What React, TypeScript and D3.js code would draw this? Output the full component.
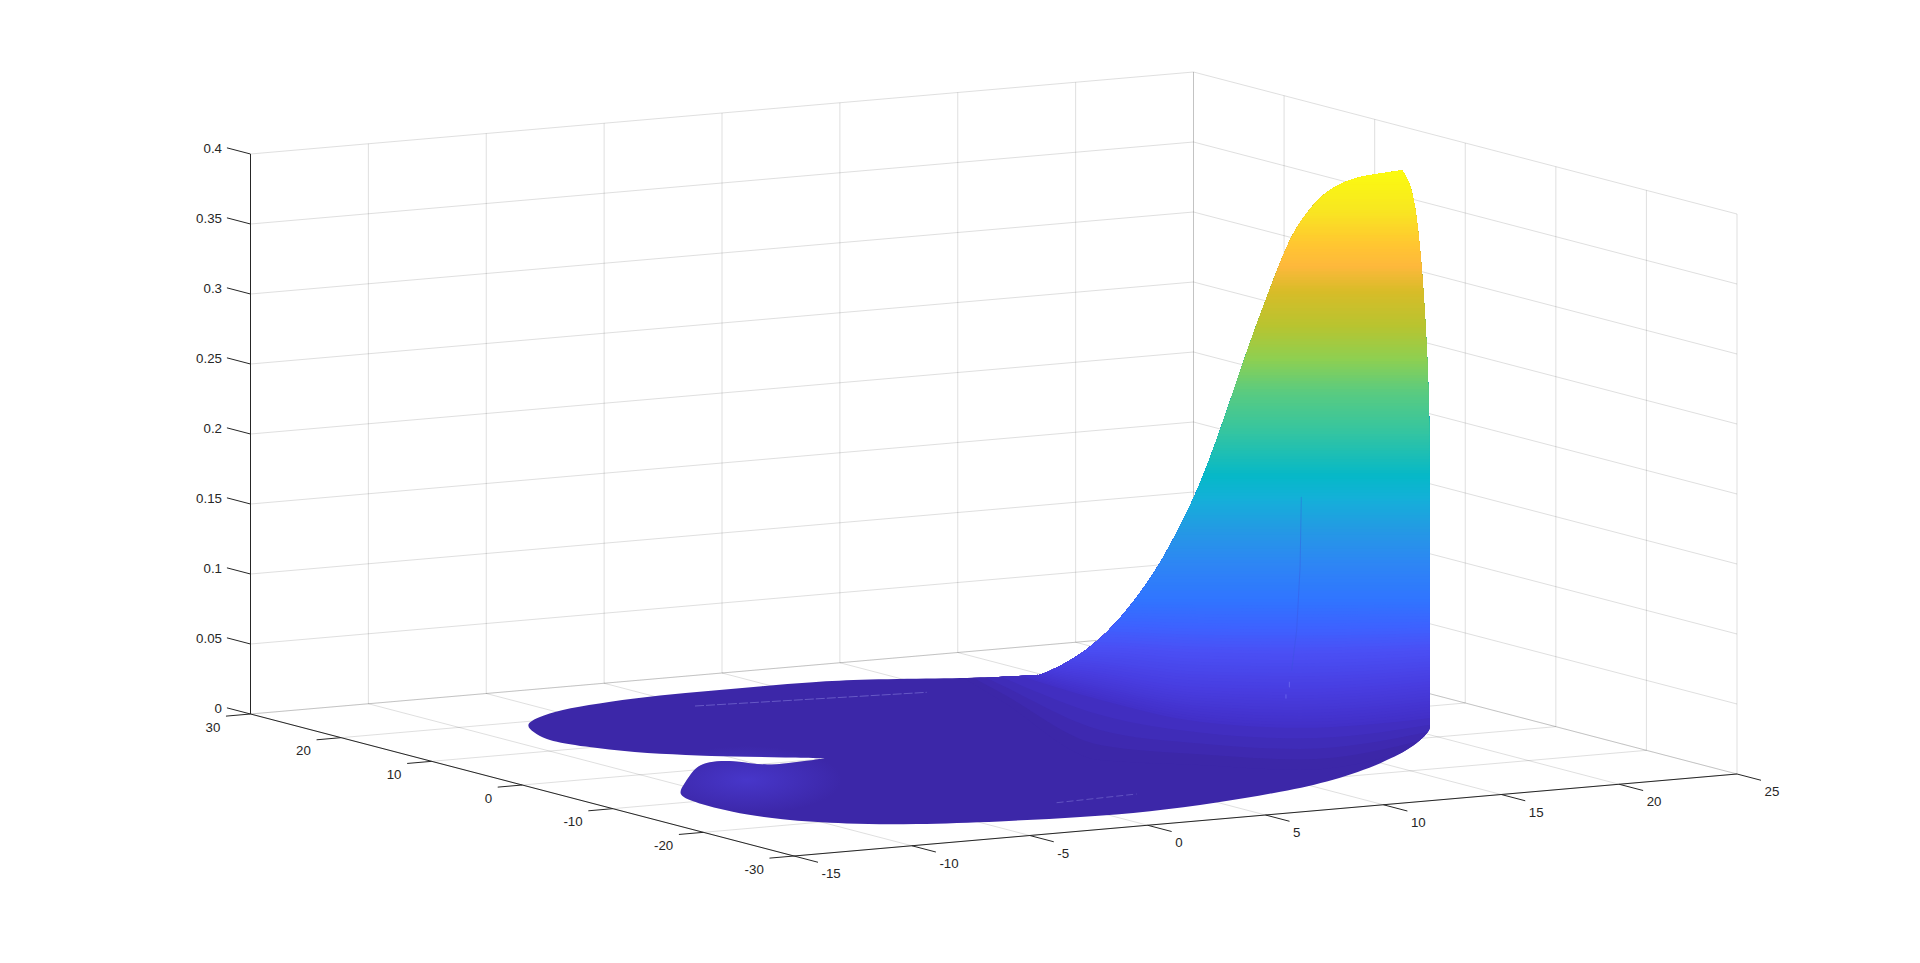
import React from "react";
import * as d3 from "d3";

const xTicks = [-15, -10, -5, 0, 5, 10, 15, 20, 25];
const yTicks = [-30, -20, -10, 0, 10, 20, 30];
const zTicks = [0, 0.05, 0.1, 0.15, 0.2, 0.25, 0.3, 0.35, 0.4];
const zTickLabels = ["0", "0.05", "0.1", "0.15", "0.2", "0.25", "0.3", "0.35", "0.4"];

// outline of the surface: front rim, slit, back rim, then over the peak
// a repeated entry keeps a sharp corner (slit tip, peak, where the back rim lifts)
const rimX = [20.95, 20.59, 18.34, 15.04, 11.33, 8.4, 4.91, 1.73, -1.05, -4.26, -7.37, -9.42, -11.07, -11.64, -11.64, -11.35,
  -9.62, -7.74, -6.61, -5.89, -5.33, -5.11, -4.79, -3.94, -2.99, -2.11, -2.11, -2.11,
  -3.18, -4.73, -6.15, -7.49, -8.38, -8.8, -8.2, -7.5, -5.82, -4.2, -2.1, 0.34, 2.46, 4.69, 6.79, 8.75, 11.61, 13.36,
  14.75, 14.75, 15.07, 15.42, 15.74, 16.06, 16.38, 16.67, 16.9, 17.13, 17.45, 17.68, 17.91, 18.09, 18.27, 18.44, 18.67, 18.91, 19.2, 19.46, 19.82, 19.82,
  20.06, 20.34, 20.6, 20.78, 20.9, 20.95, 20.95, 20.95];
const rimY = [-6.64, -7.59, -11.97, -16.84, -21, -23.1, -24.85, -25.77, -25.6, -24.81, -23.29, -21.31, -18.2, -14.2, -10.52, -7.52,
  -3.95, 0.04, 1.9, 2.25, 1.89, 0.6, -0.4, -0.41, -0.14, 0.12, 0.12, 0.12,
  1.46, 3.06, 5, 7.14, 10.45, 13.55, 16.5, 19.3, 21.62, 23.05, 24.01, 24.73, 24.6, 24.77, 24.64, 24.08, 22.03, 21.06,
  20.28, 20.28, 18.57, 16.83, 15.12, 13.41, 11.64, 10.17, 8.96, 7.71, 5.99, 4.77, 3.56, 2.64, 1.73, 0.78, -0.44, -1.66, -3.21, -4.58, -6.5, -6.5,
  -6.6, -6.6, -6.6, -6.62, -6.64, -6.64, -6.64, -6.64];
const rimZ = [0, 0, 0, 0, 0, 0, 0, 0, 0, 0, 0, 0, 0, 0, 0, 0,
  0, 0, 0, 0, 0, 0, 0, 0, 0, 0, 0, 0,
  0, 0, 0, 0, 0, 0, 0, 0, 0, 0, 0, 0, 0, 0, 0, 0, 0, 0,
  0.0007, 0.0007, 0.0103, 0.0234, 0.0401, 0.0619, 0.0879, 0.1164, 0.1417, 0.1721, 0.2224, 0.2591, 0.2922, 0.3173, 0.34, 0.3556, 0.3716, 0.3817, 0.3894, 0.3937, 0.3991, 0.3991,
  0.392, 0.375, 0.334, 0.286, 0.239, 0.191, 0.1, 0.035];

// where each height starts on the floor, one row per height, one column per slice
const isoLevels = [0, 0.008, 0.032, 0.056, 0.091];
const isoFloorX = [
  [14.68, 10.56, 6.43, 9.0, 11.58, 19.45],
  [14.68, 13.0, 12.4, 12.9, 15.36, 21.15],
  [14.68, 10.56, 11.3, 12.66, 15.6, 21.15],
  [7.37, 6.91, 10.57, 13.15, 16.21, 21.15],
  [3.96, 7.15, 10.33, 13.51, 16.7, 21.15],
];
const isoFloorY = [
  [35.55, 13.77, -8, -12.34, -16.69, -11.66],
  [35.55, 20.11, 7.54, -2.2, -6.86, -7.22],
  [35.55, 13.77, 4.68, -2.83, -6.23, -7.22],
  [16.53, 4.26, 2.78, -1.56, -4.64, -7.22],
  [7.66, 4.9, 2.15, -0.61, -3.37, -7.22],
];

// colormap as it looks in the picture
const colorZ = [0, 0.008, 0.032, 0.056, 0.072, 0.091, 0.115, 0.139, 0.163, 0.179, 0.211, 0.239, 0.263, 0.286, 0.311, 0.329, 0.346, 0.37, 0.396];
const colorHex = ["#3c27a8", "#4230c8", "#483de0", "#4a50f5", "#3d62ff", "#3075ff", "#2e85f5", "#2598e5", "#14b0d8", "#05b8c8", "#35c5a0", "#5acb80", "#8fd050", "#b8c430", "#d8bc28", "#feb83c", "#ffc830", "#f8e820", "#fbfa10"];

// thin mesh seams that show on the surface
const seamA = { x: [0.12, 9.16], y: [20.28, 18.23], z: [0, 0] };
const seamB = { x: [-0.15, 3.46], y: [-20.34, -19.79], z: [0, 0] };
const seamC = { x: [16.74, 16.7, 16.59, 16.43], y: [-3.4, -3.37, -3.28, -3.14], z: [0.165, 0.115, 0.07, 0.041] };
const seamD = { x: [16.36, 16.36], y: [-3.07, -3.07], z: [0.033, 0.029] };
const seamE = { x: [16.25, 16.25], y: [-2.98, -2.98], z: [0.024, 0.021] };

const flapGlow = { x: -7.24, y: -4.61 };

const xToPx = d3.scaleLinear().domain([-15, 25]).range([794, 1737]);
const xToPy = d3.scaleLinear().domain([-15, 25]).range([856, 774]);
const yToPx = d3.scaleLinear().domain([-30, 30]).range([0, -543.5]);
const yToPy = d3.scaleLinear().domain([-30, 30]).range([0, -142]);
const zToPy = d3.scaleLinear().domain([0, 0.4]).range([0, -560]);
const colorScale = d3.scaleLinear<string>().domain(colorZ).range(colorHex).interpolate(d3.interpolateRgb).clamp(true);

const project = (x: number, y: number, z: number): [number, number] => [xToPx(x) + yToPx(y), xToPy(x) + yToPy(y) + zToPy(z)];

const AXIS = "#262626";
const GRID = "rgba(38,38,38,0.15)";
const FONT = "'Liberation Sans', Arial, sans-serif";

function seg(a: [number, number], b: [number, number]) {
  return `M${a[0]},${a[1]}L${b[0]},${b[1]}`;
}

// every column of the iso table gets a scale from height to floor position
const colScalesX = isoFloorX[0].map((_, c) => d3.scaleLinear().domain(isoLevels).range(isoFloorX.map(r => r[c])).clamp(true));
const colScalesY = isoFloorY[0].map((_, c) => d3.scaleLinear().domain(isoLevels).range(isoFloorY.map(r => r[c])).clamp(true));

const bandLevels = d3.range(0, 0.402, 0.002);

function seamPath(s: { x: number[]; y: number[]; z: number[] }) {
  return d3.line()(s.x.map((x, i) => project(x, s.y[i], s.z[i]))) as string;
}

export default function App() {
  const rimPoints = rimX.map((x, i) => project(x, rimY[i], rimZ[i]));
  const rimPath = d3.line().curve(d3.curveBasisClosed)(rimPoints) as string;

  const bandArea = d3
    .area<[number, number]>()
    .x(d => d[0])
    .y0(d => d[1])
    .y1(0)
    .curve(d3.curveMonotoneX);

  const bands = bandLevels.map(z => {
    const row = colScalesX.map((sx, c) => project(sx(z), colScalesY[c](z), z));
    return { z, d: bandArea(row) as string };
  });

  const glowAt = project(flapGlow.x, flapGlow.y, 0);

  return (
    <svg width={1920} height={963} style={{ position: "absolute", left: 0, top: 0, display: "block", background: "#fff" }}>
      <defs>
        <clipPath id="surface-clip">
          <path d={rimPath} />
        </clipPath>
        <radialGradient id="flap-glow">
          <stop offset="0%" stopColor="#4a3ad2" stopOpacity={0.8} />
          <stop offset="100%" stopColor="#4a3ad2" stopOpacity={0} />
        </radialGradient>
      </defs>

      {/* grid on the floor and the two back walls */}
      <g fill="none" stroke={GRID} strokeWidth={1}>
        {xTicks.map(x => (
          <g key={"gx" + x}>
            <path d={seg(project(x, -30, 0), project(x, 30, 0))} />
            <path d={seg(project(x, 30, 0), project(x, 30, 0.4))} />
          </g>
        ))}
        {yTicks.map(y => (
          <g key={"gy" + y}>
            <path d={seg(project(-15, y, 0), project(25, y, 0))} />
            <path d={seg(project(25, y, 0), project(25, y, 0.4))} />
          </g>
        ))}
        {zTicks.map(z => (
          <g key={"gz" + z}>
            <path d={seg(project(-15, 30, z), project(25, 30, z))} />
            <path d={seg(project(25, 30, z), project(25, -30, z))} />
          </g>
        ))}
      </g>

      {/* axes */}
      <g fill="none" stroke={AXIS} strokeWidth={1}>
        <path d={seg(project(-15, -30, 0), project(25, -30, 0))} />
        <path d={seg(project(-15, -30, 0), project(-15, 30, 0))} />
        <path d={seg(project(-15, 30, 0), project(-15, 30, 0.4))} />
        {xTicks.map(x => (
          <path key={"tx" + x} d={seg(project(x, -30, 0), project(x, -32.65, 0))} />
        ))}
        {yTicks.map(y => (
          <path key={"ty" + y} d={seg(project(-15, y, 0), project(-16.04, y, 0))} />
        ))}
        {zTicks.map(z => (
          <path key={"tz" + z} d={seg(project(-15, 30, z), project(-15, 32.6, z))} />
        ))}
      </g>

      <g fontFamily={FONT} fontSize={13.3} fill={AXIS} dominantBaseline="central">
        {xTicks.map(x => {
          const p = project(x, -30, 0);
          return (
            <text key={"lx" + x} x={p[0] + 27.5} y={p[1] + 17.5}>
              {x}
            </text>
          );
        })}
        {yTicks.map(y => {
          const p = project(-15, y, 0);
          return (
            <text key={"ly" + y} x={p[0] - 30.2} y={p[1] + 13} textAnchor="end">
              {y}
            </text>
          );
        })}
        {zTicks.map((z, i) => {
          const p = project(-15, 30, z);
          return (
            <text key={"lz" + z} x={p[0] - 28.5} y={p[1] - 6} textAnchor="end">
              {zTickLabels[i]}
            </text>
          );
        })}
      </g>

      {/* surface: floor colour first, then one layer per height */}
      <path d={rimPath} fill={colorHex[0]} />
      <g clipPath="url(#surface-clip)">
        <ellipse cx={glowAt[0]} cy={glowAt[1]} rx={95} ry={34} fill="url(#flap-glow)" />
        {bands.map(b => (
          <path key={b.z} d={b.d} fill={colorScale(b.z)} />
        ))}
        <g fill="none" strokeWidth={0.8}>
          <path d={seamPath(seamA)} stroke="#7f76d6" strokeDasharray="9 2" opacity={0.8} />
          <path d={seamPath(seamB)} stroke="#7f76d6" strokeDasharray="7 3" opacity={0.7} />
          <path d={seamPath(seamC)} stroke="#3a55dc" opacity={0.5} />
          <path d={seamPath(seamD)} stroke="#6f6cf0" />
          <path d={seamPath(seamE)} stroke="#6f6cf0" />
        </g>
      </g>
    </svg>
  );
}
